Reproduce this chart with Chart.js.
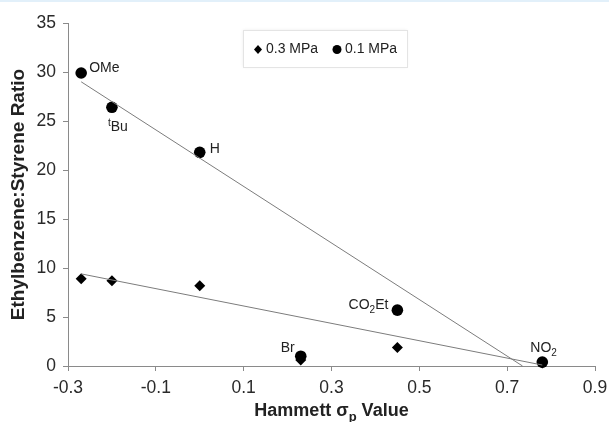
<!DOCTYPE html>
<html>
<head>
<meta charset="utf-8">
<script src="https://cdn.jsdelivr.net/npm/chart.js@4/dist/chart.umd.min.js"></script>
<style>
  html, body { margin: 0; padding: 0; background: #fff; }
  #wrap { width: 609px; height: 422px; position: relative; }
</style>
</head>
<body>
<div id="wrap"><canvas id="c" width="609" height="422"></canvas></div>
<script>
// ---- data ----
const sigmaP        = [-0.27, -0.20, 0.00, 0.23, 0.45, 0.78];
const ratio01MPa    = [29.9, 26.4, 21.8, 1.0, 5.7, 0.4];
const ratio03MPa    = [8.9, 8.7, 8.2, 0.6, 1.9, 0.3];
const substituents  = ['OMe', '^tBu', 'H', 'Br', 'CO_2Et', 'NO_2'];
const seriesNames   = ['0.3 MPa', '0.1 MPa'];
const fitLine01X    = [-0.27, 0.735];
const fitLine01Y    = [29.0, 0.0];
const fitLine03X    = [-0.27, 0.78];
const fitLine03Y    = [9.4, 0.1];
const xTicks        = [-0.3, -0.1, 0.1, 0.3, 0.5, 0.7, 0.9];
const yTicks        = [0, 5, 10, 15, 20, 25, 30, 35];
const xTitle        = ['Hammett σ', 'p', ' Value'];
const yTitle        = 'Ethylbenzene:Styrene Ratio';

const FONT = '"Liberation Sans", Arial, Helvetica, sans-serif';

const pts = (xs, ys) => xs.map((x, i) => ({ x: x, y: ys[i] }));

// label placement (style only): align, dx, dy(baseline) relative to the circle point
const labelPlacement = [
  { align: 'left',  dx: 8,  dy: -1 },
  { align: 'left',  dx: -4, dy: 24 },
  { align: 'left',  dx: 10, dy: 1 },
  { align: 'right', dx: -6, dy: -4 },
  { align: 'right', dx: -9, dy: -1 },
  { align: 'left',  dx: -12, dy: -10 }
];

function parseRich(s) {
  const parts = [];
  for (let i = 0; i < s.length; i++) {
    const ch = s[i];
    if ((ch === '_' || ch === '^') && i + 1 < s.length) {
      parts.push({ t: s[i + 1], k: ch === '_' ? 'sub' : 'sup' });
      i++;
    } else {
      if (parts.length && parts[parts.length - 1].k === 'n') parts[parts.length - 1].t += ch;
      else parts.push({ t: ch, k: 'n' });
    }
  }
  return parts;
}

function drawRich(ctx, parts, x, y, align, size, weight) {
  const small = Math.round(size * 0.72);
  const fontFor = k => (weight ? weight + ' ' : '') + (k === 'n' ? size : small) + 'px ' + FONT;
  let w = 0;
  parts.forEach(p => { ctx.font = fontFor(p.k); p.w = ctx.measureText(p.t).width; w += p.w; });
  let cx = align === 'right' ? x - w : (align === 'center' ? x - w / 2 : x);
  ctx.textAlign = 'left';
  ctx.textBaseline = 'alphabetic';
  parts.forEach(p => {
    ctx.font = fontFor(p.k);
    const oy = p.k === 'sub' ? size * 0.25 : (p.k === 'sup' ? -size * 0.38 : 0);
    ctx.fillText(p.t, cx, y + oy);
    cx += p.w;
  });
}

const overlay = {
  id: 'overlay',
  afterDraw(chart) {
    const ctx = chart.ctx;
    const xs = chart.scales.x, ys = chart.scales.y;
    ctx.save();
    // thin page border strip at the very top
    ctx.fillStyle = '#e2f0fa';
    ctx.fillRect(0, 0, chart.width, 2);

    // substituent labels
    ctx.fillStyle = '#222';
    substituents.forEach((lab, i) => {
      const px = xs.getPixelForValue(sigmaP[i]);
      const py = ys.getPixelForValue(ratio01MPa[i]);
      const pl = labelPlacement[i];
      drawRich(ctx, parseRich(lab), px + pl.dx, py + pl.dy, pl.align, 14, '');
    });

    // x axis title with subscript
    ctx.fillStyle = '#222';
    drawRich(ctx, [{ t: xTitle[0], k: 'n' }, { t: xTitle[1], k: 'sub' }, { t: xTitle[2], k: 'n' }],
      (chart.chartArea.left + chart.chartArea.right) / 2, 416, 'center', 18, 'bold');

    // legend box
    const lx = 243, ly = 30, lw = 164, lh = 37;
    ctx.fillStyle = '#fff';
    ctx.shadowColor = 'rgba(0,0,0,0.08)';
    ctx.shadowBlur = 3;
    ctx.fillRect(lx, ly, lw, lh);
    ctx.shadowBlur = 0;
    ctx.strokeStyle = '#e4e4e4';
    ctx.lineWidth = 1;
    ctx.strokeRect(lx + 0.5, ly + 0.5, lw, lh);
    const cy = ly + lh / 2 + 1;
    ctx.fillStyle = '#000';
    // diamond
    ctx.beginPath();
    ctx.moveTo(258, cy - 4.5); ctx.lineTo(262, cy); ctx.lineTo(258, cy + 4.5); ctx.lineTo(254, cy);
    ctx.closePath(); ctx.fill();
    // circle
    ctx.beginPath(); ctx.arc(337, cy, 4.5, 0, Math.PI * 2); ctx.fill();
    ctx.fillStyle = '#222';
    ctx.font = '14px ' + FONT;
    ctx.textBaseline = 'middle';
    ctx.textAlign = 'left';
    ctx.fillText(seriesNames[0], 266, cy);
    ctx.fillText(seriesNames[1], 345, cy);
    ctx.restore();
  }
};

new Chart(document.getElementById('c'), {
  type: 'scatter',
  data: {
    datasets: [
      {
        label: 'fit 0.1 MPa', type: 'line', data: pts(fitLine01X, fitLine01Y),
        borderColor: '#7c7c7c', borderWidth: 1, pointRadius: 0, fill: false, tension: 0, clip: false
      },
      {
        label: 'fit 0.3 MPa', type: 'line', data: pts(fitLine03X, fitLine03Y),
        borderColor: '#7c7c7c', borderWidth: 1, pointRadius: 0, fill: false, tension: 0, clip: false
      },
      {
        label: seriesNames[0], data: pts(sigmaP, ratio03MPa),
        pointStyle: 'rectRot', pointRadius: 5.5, backgroundColor: '#000', borderColor: '#000', borderWidth: 0, clip: false
      },
      {
        label: seriesNames[1], data: pts(sigmaP, ratio01MPa),
        pointStyle: 'circle', pointRadius: 5.8, backgroundColor: '#000', borderColor: '#000', borderWidth: 0, clip: false
      }
    ]
  },
  options: {
    responsive: false,
    animation: false,
    devicePixelRatio: 1,
    layout: { padding: { top: 23, right: 14, left: 0, bottom: 0 } },
    plugins: { legend: { display: false }, tooltip: { enabled: false } },
    scales: {
      x: {
        type: 'linear', min: xTicks[0], max: xTicks[xTicks.length - 1],
        afterBuildTicks: s => { s.ticks = xTicks.map(v => ({ value: v })); },
        afterFit: s => { s.height = 56; s.paddingLeft = 0; s.paddingRight = 0; },
        grid: { drawOnChartArea: false, drawTicks: true, tickLength: 5, color: '#8a8a8a' },
        border: { color: '#8a8a8a', width: 1 },
        ticks: {
          padding: 7, color: '#2a2a2a', font: { family: FONT, size: 17.5 },
          callback: v => v.toFixed(1)
        }
      },
      y: {
        type: 'linear', min: yTicks[0], max: yTicks[yTicks.length - 1],
        afterBuildTicks: s => { s.ticks = yTicks.map(v => ({ value: v })); },
        afterFit: s => { s.width = 68; s.paddingTop = 0; s.paddingBottom = 0; },
        grid: { drawOnChartArea: false, drawTicks: true, tickLength: 5, color: '#8a8a8a' },
        border: { color: '#8a8a8a', width: 1 },
        ticks: { padding: 7, color: '#2a2a2a', font: { family: FONT, size: 17.5 } },
        title: {
          display: true, text: yTitle, color: '#222',
          font: { family: FONT, size: 19, weight: 'bold' }, padding: { top: 7, bottom: 0 }
        }
      }
    }
  },
  plugins: [overlay]
});
</script>
</body>
</html>
